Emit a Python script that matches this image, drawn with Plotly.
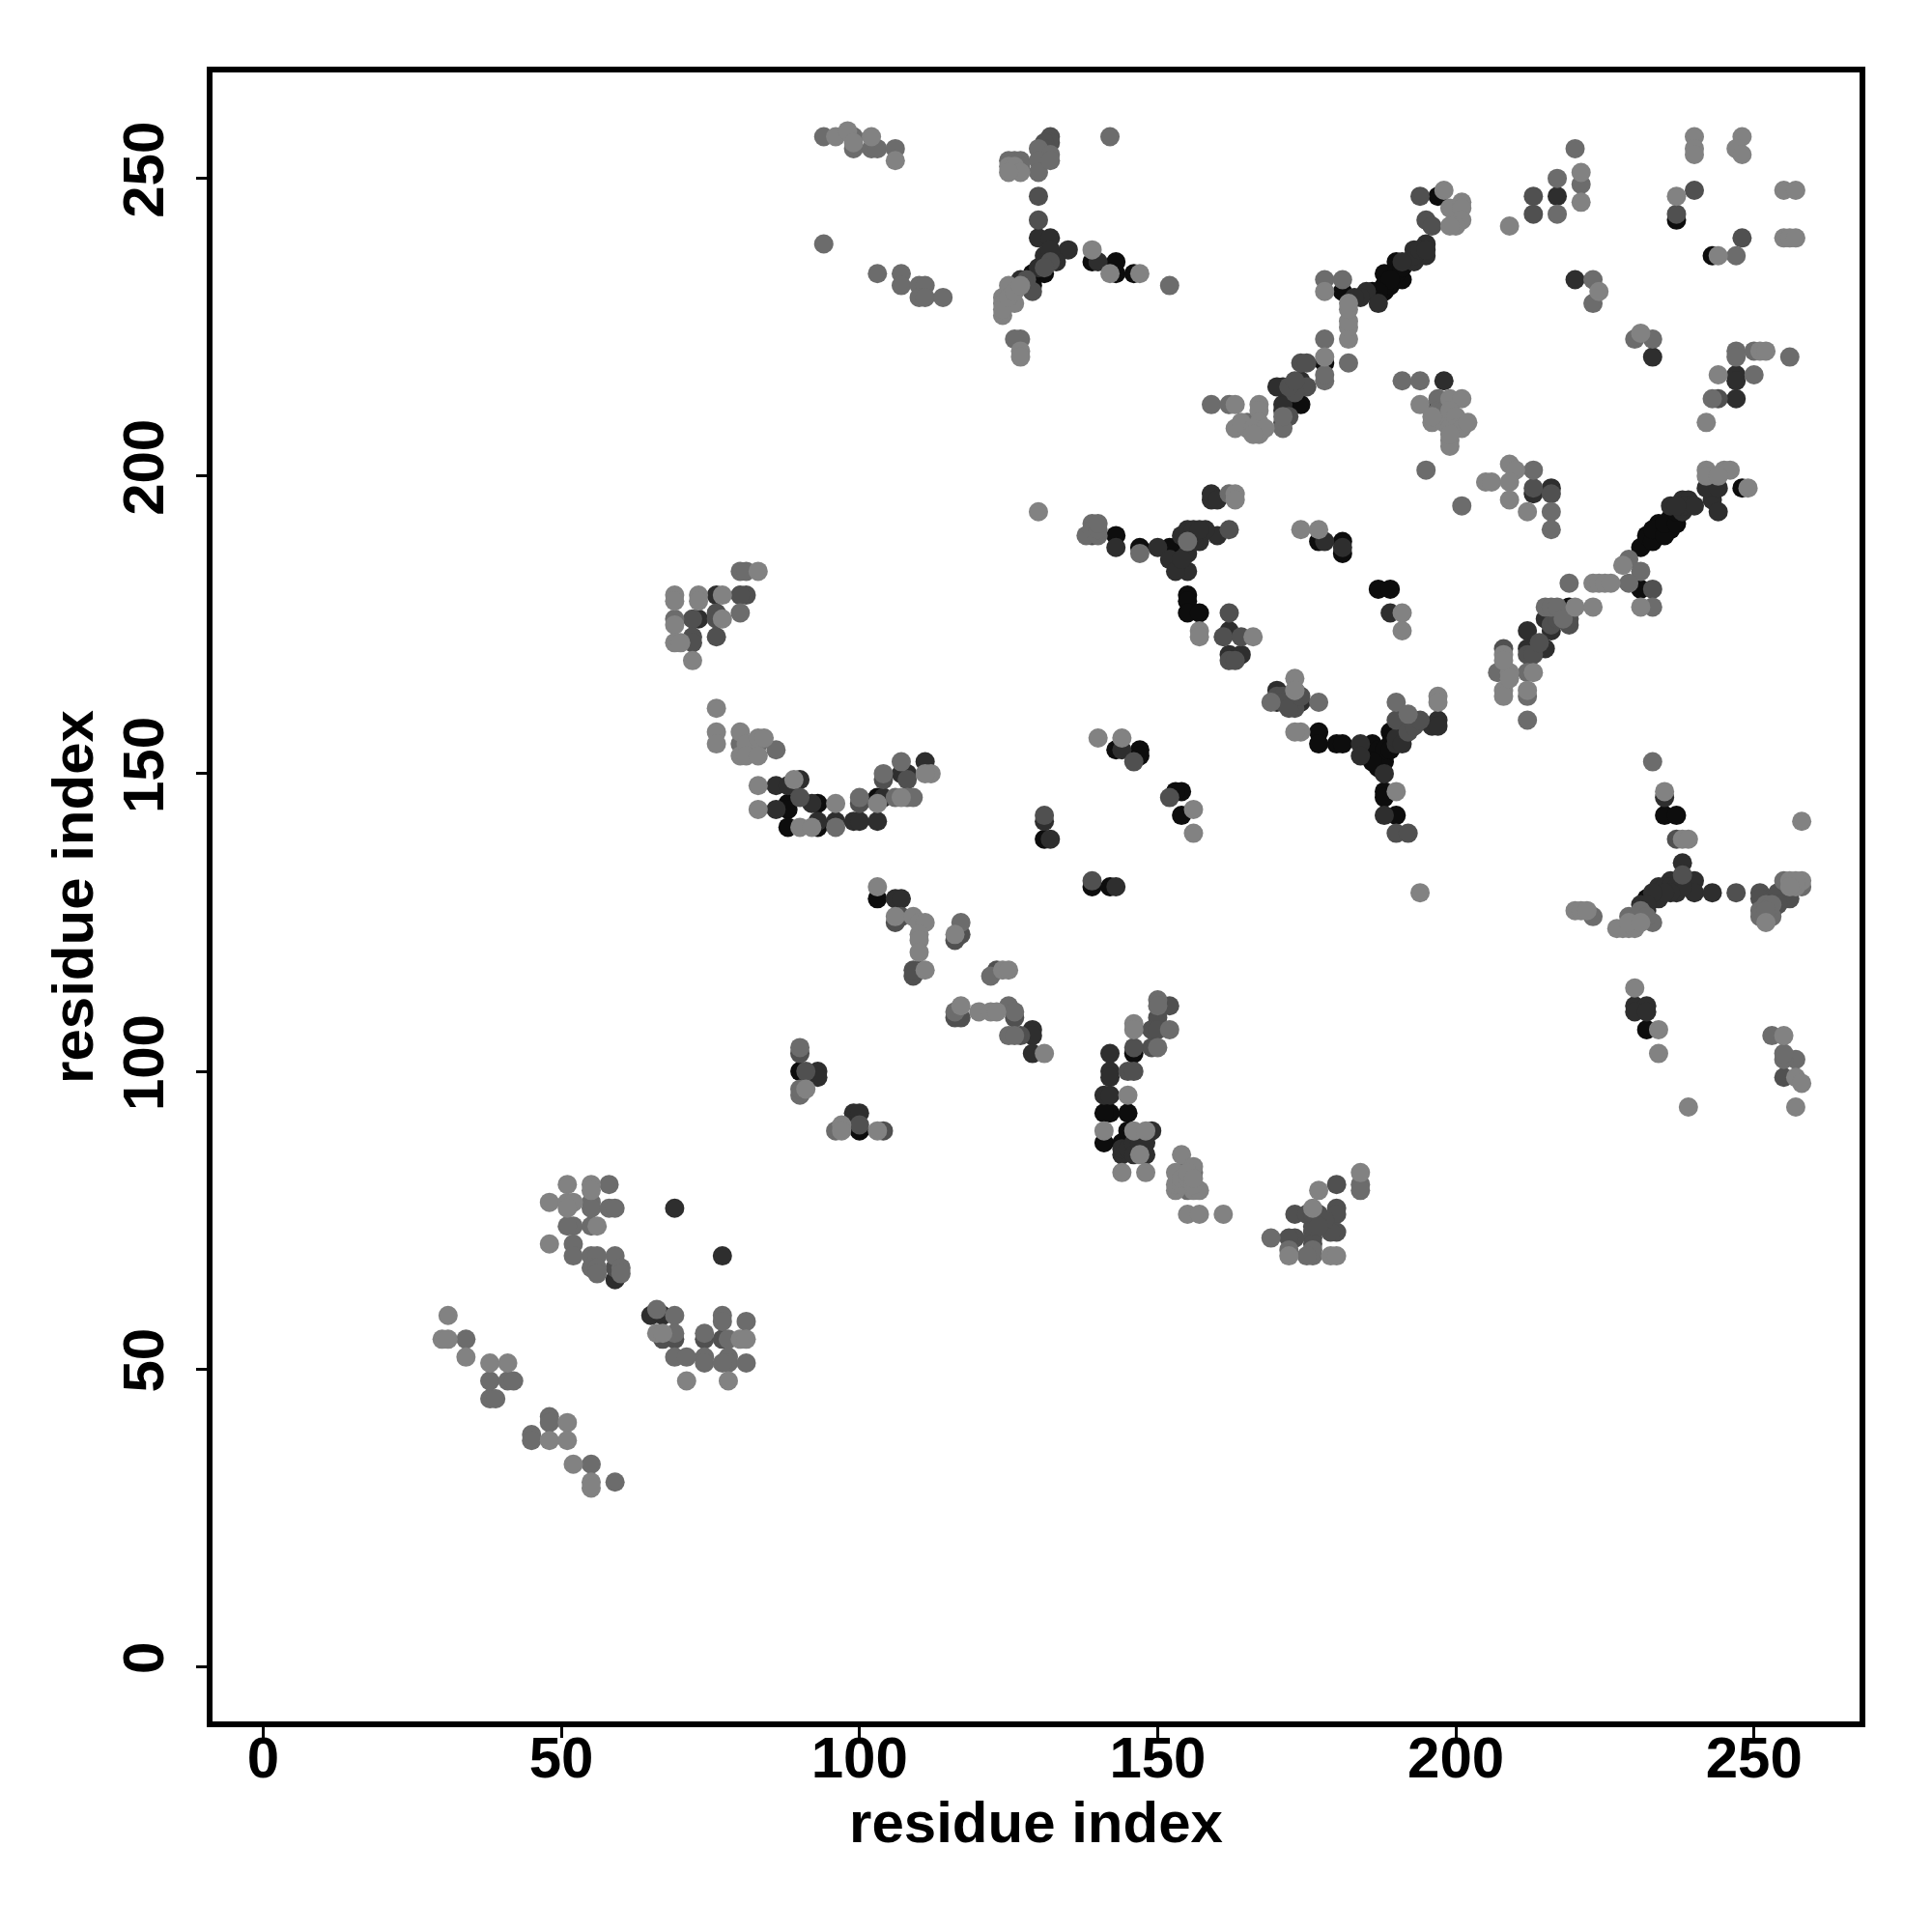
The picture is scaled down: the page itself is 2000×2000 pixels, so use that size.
import plotly.graph_objects as go

tick_vals = [0, 50, 100, 150, 200, 250]
axis_label = "residue index"

black_pts = [(139,236),(143,236),(143,234),(146,234),(131,234),(129,234),(129,232),(178,219),(174,212),(181,231),(186,231),(188,231),(189,232),(191,233),(188,234),(190,236),(197,247),(237,243),(243,237),(231,181),(231,188),(232,190),(234,192),(234,190),(236,191),(236,193),(219,178),(248,198),(143,190),(147,188),(152,188),(154,189),(154,188),(155,190),(155,180),(155,179),(155,177),(157,177),(177,189),(181,189),(181,187),(187,181),(189,181),(177,157),(177,155),(180,155),(181,155),(189,157),(189,155),(188,153),(187,151),(186,155),(186,153),(188,147),(188,146),(190,143),(143,154),(147,154),(147,153),(154,147),(153,147),(154,143),(131,139),(139,131),(142,131),(232,129),(235,143),(237,143),(232,107),(90,100),(88,145),(88,144),(88,141),(93,145),(93,141),(103,146),(103,129),(100,90),(146,103),(145,93),(141,88),(144,88),(145,88),(145,90),(142,93),(141,93),(188,232),(190,234),(191,235),(192,236),(189,233),(187,231),(233,189),(233,191),(235,190),(235,192),(237,192),(237,194),(153,186),(153,188),(187,152),(187,153),(187,154),(188,152),(188,154),(186,152),(189,154)]

dark_pts = [(130,240),(132,240),(135,238),(140,236),(130,235),(132,237),(127,233),(171,211),(171,212),(174,216),(171,215),(170,215),(185,231),(187,229),(193,236),(195,237),(195,239),(193,238),(217,247),(220,233),(233,220),(247,217),(247,216),(247,213),(198,216),(197,212),(216,198),(213,197),(236,195),(238,196),(239,196),(238,194),(243,196),(244,194),(242,198),(244,198),(212,174),(216,174),(215,176),(212,171),(215,171),(143,188),(150,188),(152,186),(155,187),(155,184),(153,184),(157,189),(156,189),(159,196),(159,197),(160,196),(160,190),(158,191),(162,170),(164,170),(162,174),(178,189),(181,188),(189,177),(170,164),(170,162),(173,162),(174,162),(184,155),(184,153),(188,150),(197,159),(196,158),(197,158),(190,155),(191,156),(188,143),(144,154),(131,142),(132,139),(143,131),(235,146),(238,135),(240,132),(240,130),(236,132),(234,131),(234,129),(237,130),(243,130),(232,127),(230,111),(232,111),(230,110),(232,110),(73,176),(76,180),(86,148),(88,148),(86,144),(90,149),(92,145),(93,142),(96,142),(99,142),(100,142),(103,142),(104,146),(107,150),(108,150),(111,152),(106,129),(107,129),(110,117),(129,107),(129,106),(129,103),(93,100),(93,99),(99,93),(100,93),(142,103),(142,100),(142,99),(141,96),(142,96),(149,90),(148,88),(144,86),(148,86),(69,77),(77,69),(65,59),(67,59),(59,65),(193,237),(194,238),(195,238),(191,236),(184,230),(183,230),(239,195),(238,195),(240,195),(237,195),(154,186),(154,190),(155,191),(156,190),(156,191),(157,191),(190,156),(191,155),(131,236),(131,237),(132,238),(133,236),(235,131),(236,131),(237,131),(238,131),(236,130),(235,130),(233,130),(231,128),(232,128),(144,87),(145,87),(146,88),(146,86),(147,88)]

middark_pts = [(130,243),(132,236),(132,257),(132,256),(130,247),(174,219),(175,219),(175,215),(194,247),(195,243),(196,242),(213,247),(237,244),(240,248),(248,240),(213,244),(244,213),(213,198),(216,197),(208,171),(219,175),(219,176),(233,181),(161,173),(164,173),(162,177),(162,169),(163,169),(139,190),(162,191),(173,161),(190,159),(190,140),(192,140),(146,152),(152,146),(131,143),(139,132),(237,139),(238,133),(247,130),(251,130),(256,129),(253,129),(251,129),(253,127),(255,99),(72,176),(72,173),(76,176),(76,177),(76,173),(81,180),(80,180),(72,172),(90,146),(100,145),(108,149),(104,149),(106,125),(107,126),(109,116),(109,117),(116,122),(117,123),(116,109),(117,109),(123,117),(126,109),(127,106),(90,103),(91,100),(100,91),(104,90),(152,111),(150,109),(149,104),(146,104),(145,100),(146,100),(149,107),(150,107),(173,76),(176,73),(177,76),(180,77),(180,76),(176,72),(180,81),(180,73),(179,73),(173,72),(172,72),(59,67),(74,55),(77,55),(67,55),(69,55),(171,209),(172,210),(173,214),(172,215),(173,216),(192,157),(193,158),(194,159),(129,231),(128,233),(131,235),(131,256),(131,255),(131,254),(212,170),(213,170),(214,172),(216,175),(217,176),(170,163),(171,163),(171,162),(172,161),(174,163),(176,71),(176,74),(175,76),(176,76),(178,75),(177,74),(255,130),(254,130),(254,128)]

mid_pts = [(130,255),(132,254),(130,253),(130,251),(142,257),(152,232),(127,223),(126,223),(159,212),(162,212),(171,208),(178,223),(182,219),(178,233),(181,233),(178,216),(178,217),(191,216),(194,216),(197,213),(195,201),(201,195),(216,194),(213,201),(216,191),(220,255),(217,250),(221,249),(217,244),(223,233),(223,229),(247,237),(230,223),(233,223),(247,221),(250,221),(256,220),(247,220),(250,217),(243,213),(229,186),(231,184),(229,182),(219,182),(233,178),(215,178),(212,163),(208,167),(212,167),(207,167),(212,159),(138,190),(139,192),(147,187),(162,197),(155,189),(173,164),(169,162),(177,162),(190,162),(192,160),(233,152),(229,126),(233,125),(223,126),(251,127),(253,126),(255,132),(258,131),(257,102),(255,102),(255,103),(251,126),(253,106),(99,255),(99,257),(102,255),(103,255),(107,234),(107,232),(110,232),(111,232),(110,230),(111,230),(94,239),(94,257),(103,234),(69,176),(80,177),(80,184),(81,184),(86,154),(80,155),(83,155),(96,141),(100,146),(104,150),(107,152),(108,146),(117,125),(116,110),(122,116),(125,111),(126,110),(125,106),(126,106),(90,104),(90,96),(90,97),(96,90),(150,112),(150,111),(150,104),(152,107),(172,70),(176,69),(176,70),(175,69),(169,72),(184,81),(184,80),(154,83),(155,80),(156,83),(59,69),(58,81),(52,74),(55,74),(55,78),(55,77),(51,74),(52,71),(52,69),(55,69),(56,69),(55,67),(56,67),(56,66),(60,67),(60,66),(58,77),(59,77),(45,39),(45,38),(48,42),(48,41),(38,45),(39,45),(38,48),(41,48),(42,48),(34,55),(55,34),(59,31),(69,59),(69,56),(66,60),(74,56),(74,52),(74,51),(78,52),(77,59),(77,58),(78,55),(69,52),(71,52),(78,51),(77,51),(81,58),(81,51),(126,253),(127,253),(127,252),(125,253),(132,253),(139,191),(140,190),(140,191),(140,192),(165,209),(171,210),(197,211),(198,211),(198,210),(252,128),(253,128),(252,127),(231,127),(232,126),(106,255),(114,230),(106,146),(109,146),(216,178),(217,178),(218,176)]

light_pts = [(124,230),(124,229),(124,227),(125,232),(125,252),(126,252),(126,229),(127,251),(127,221),(127,220),(139,238),(142,234),(147,234),(163,212),(163,208),(165,208),(167,212),(167,211),(167,209),(167,207),(178,231),(178,220),(182,223),(182,225),(182,226),(182,228),(182,229),(198,248),(199,245),(201,246),(201,245),(201,243),(200,242),(199,242),(221,251),(221,246),(209,242),(224,231),(240,257),(240,255),(240,254),(248,257),(247,255),(248,254),(237,247),(255,248),(257,248),(255,240),(256,240),(257,240),(244,237),(231,224),(251,221),(252,221),(244,217),(242,209),(194,212),(199,213),(201,213),(196,209),(198,209),(199,209),(201,209),(199,208),(199,206),(199,205),(205,199),(206,199),(209,202),(210,201),(209,199),(209,196),(212,194),(223,182),(224,182),(225,182),(226,182),(228,185),(231,178),(242,201),(245,201),(246,201),(242,200),(244,200),(249,198),(220,178),(223,178),(209,167),(213,167),(208,164),(208,163),(212,164),(130,194),(157,174),(157,173),(163,197),(163,196),(166,173),(174,191),(177,191),(191,177),(191,174),(173,166),(173,164),(174,157),(173,157),(197,163),(197,162),(190,147),(194,130),(140,156),(144,156),(156,144),(156,140),(235,147),(238,139),(239,139),(258,142),(258,132),(256,132),(220,127),(221,127),(222,127),(228,124),(229,124),(230,124),(252,125),(230,114),(234,107),(234,103),(255,106),(257,99),(258,98),(257,94),(239,94),(83,184),(69,180),(69,179),(77,180),(73,180),(73,179),(69,175),(69,172),(70,172),(77,176),(72,169),(76,161),(76,157),(76,155),(80,157),(80,153),(81,155),(81,153),(83,156),(83,153),(84,156),(83,148),(83,144),(89,149),(90,141),(92,141),(96,145),(103,145),(107,146),(112,150),(111,150),(103,131),(106,126),(109,126),(110,125),(111,125),(110,123),(110,122),(110,120),(111,117),(117,111),(116,123),(124,117),(125,117),(120,110),(122,110),(123,110),(131,103),(91,97),(97,91),(97,90),(103,90),(146,108),(146,107),(145,96),(141,90),(146,90),(148,90),(147,86),(144,83),(148,83),(154,86),(156,84),(153,83),(153,80),(156,80),(157,80),(155,76),(157,76),(161,76),(176,77),(177,80),(172,69),(179,69),(180,69),(184,83),(51,81),(55,81),(55,80),(48,78),(51,78),(52,78),(51,77),(56,74),(48,71),(31,59),(30,55),(31,55),(34,52),(38,51),(41,51),(48,38),(51,41),(51,38),(52,34),(55,31),(55,30),(66,56),(67,56),(71,48),(80,55),(81,55),(78,48),(96,257),(98,258),(102,257),(106,253),(99,256),(125,251),(124,228),(125,230),(126,231),(127,232),(164,209),(166,208),(168,208),(166,207),(196,210),(199,211),(200,210),(200,208),(201,208),(202,209),(199,207),(227,124),(229,125),(231,125),(208,170),(208,169),(209,166),(153,81),(154,81),(154,82),(155,82),(155,83),(156,81),(156,82),(257,131),(257,132),(256,131)]

shade_groups = [
    (black_pts, "#0d0d0d"),
    (dark_pts, "#2e2e2e"),
    (middark_pts, "#505050"),
    (mid_pts, "#6c6c6c"),
    (light_pts, "#828282"),
]

fig = go.Figure()
for pts, colour in shade_groups:
    fig.add_trace(go.Scatter(
        x=[p[0] for p in pts],
        y=[p[1] for p in pts],
        mode="markers",
        marker=dict(size=20, color=colour, line=dict(width=0)),
        showlegend=False,
        hoverinfo="skip",
    ))

label_font = dict(family="Liberation Sans", size=60, color="black", weight=700)
axis_common = dict(
    tickmode="array", tickvals=tick_vals, ticktext=[str(v) for v in tick_vals],
    showgrid=False, zeroline=False, showline=True, linecolor="black", linewidth=6,
    mirror=True, ticks="outside", ticklen=11, tickwidth=3, tickcolor="black",
    tickfont=label_font,
)
fig.update_layout(
    width=2000, height=2000,
    margin=dict(l=212, r=83, t=67, b=226, pad=0),
    paper_bgcolor="white", plot_bgcolor="white",
    xaxis=dict(range=[-8.5, 267.7], ticklabelstandoff=-31,
               title=dict(text=axis_label, font=label_font, standoff=9),
               **axis_common),
    yaxis=dict(range=[-9.2, 267.8], tickangle=-90, ticklabelstandoff=10,
               title=dict(text=axis_label, font=label_font, standoff=1),
               **axis_common),
)
fig.write_html("out.html")
